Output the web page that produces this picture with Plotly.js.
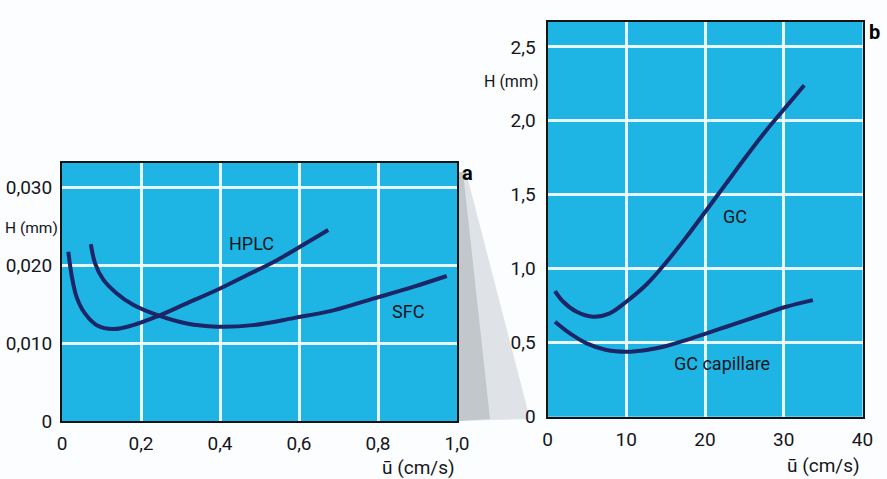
<!DOCTYPE html>
<html>
<head>
<meta charset="utf-8">
<script src="https://cdn.plot.ly/plotly-3.0.1.min.js"></script>
<style>html,body{margin:0;padding:0;background:#fbfdfe;}#chart{width:887px;height:479px;}</style>
</head>
<body>
<div id="chart"></div>
<script>
// ---- data ----
const hplcU = [0.016,0.025,0.037,0.058,0.088,0.13,0.18,0.24,0.316,0.392,0.468,0.543,0.611,0.674];
const hplcH = [0.0217,0.0185,0.0159,0.0138,0.0123,0.0118,0.0123,0.0134,0.0151,0.0168,0.0187,0.0206,0.0226,0.0245];
const sfcU  = [0.073,0.084,0.105,0.138,0.18,0.24,0.316,0.392,0.484,0.586,0.687,0.788,0.889,0.974];
const sfcH  = [0.0227,0.0202,0.0181,0.0164,0.0149,0.0136,0.0125,0.0121,0.0123,0.0132,0.0142,0.0157,0.0172,0.0186];
const gcU   = [0.95,2.0,3.7,5.8,7.9,10.0,12.6,15.1,17.6,20.2,22.7,25.2,27.8,30.3,32.6];
const gcH   = [0.849,0.777,0.709,0.676,0.699,0.777,0.895,1.045,1.212,1.397,1.577,1.757,1.937,2.095,2.241];
const gccU  = [0.95,2.85,4.97,7.5,10.0,12.6,15.1,17.6,20.2,22.7,25.2,27.8,30.3,33.7];
const gccH  = [0.642,0.563,0.496,0.451,0.439,0.451,0.478,0.518,0.563,0.608,0.653,0.699,0.743,0.788];

const xTicksA = [0,0.2,0.4,0.6,0.8,1.0];
const xTextA  = ["0","0,2","0,4","0,6","0,8","1,0"];
const yTicksA = [0,0.01,0.02,0.03];
const yTextA  = ["0","0,010","0,020","0,030"];
const xTicksB = [0,10,20,30,40];
const xTextB  = ["0","10","20","30","40"];
const yTicksB = [0,0.5,1.0,1.5,2.0,2.5];
const yTextB  = ["0","0,5","1,0","1,5","2,0","2,5"];

const seriesNames = ["HPLC","SFC","GC","GC capillare"];
const axisTitleY = "H (mm)";
const axisTitleX = "ū (cm/s)";

// ---- layout helpers ----
const W = 887, H = 479;
const px = x => x / W;
const py = y => 1 - y / H;
const FONT = "Roboto, Liberation Sans, sans-serif";
const lineCol = "#1c2566";
const textCol = "#15151c";

const lineStyle = {color: lineCol, width: 4, shape: "spline", smoothing: 1};
const traces = [
  {x: hplcU, y: hplcH, name: seriesNames[0], mode: "lines", line: lineStyle, xaxis: "x", yaxis: "y"},
  {x: sfcU,  y: sfcH,  name: seriesNames[1], mode: "lines", line: lineStyle, xaxis: "x", yaxis: "y"},
  {x: gcU,   y: gcH,   name: seriesNames[2], mode: "lines", line: lineStyle, xaxis: "x2", yaxis: "y2"},
  {x: gccU,  y: gccH,  name: seriesNames[3], mode: "lines", line: lineStyle, xaxis: "x2", yaxis: "y2"}
];

const axBase = {
  showgrid: true, gridcolor: "rgba(240,250,255,0.95)", gridwidth: 3,
  showline: true, mirror: true, linecolor: "#141414", linewidth: 2,
  zeroline: false, ticks: "", tickmode: "array",
  tickfont: {family: FONT, size: 19, color: textCol}
};

const layout = {
  width: W, height: H,
  margin: {l: 0, r: 0, t: 0, b: 0},
  paper_bgcolor: "#fbfdfe",
  plot_bgcolor: "#1eb5e4",
  showlegend: false,
  xaxis:  Object.assign({}, axBase, {domain: [px(62), px(457)], range: [0, 1.0], anchor: "y", tickvals: xTicksA, ticktext: xTextA, ticklabelstandoff: 4}),
  yaxis:  Object.assign({}, axBase, {domain: [py(421), py(163)], range: [0, 0.0331], anchor: "x", tickvals: yTicksA, ticktext: yTextA, ticklabelstandoff: 4}),
  xaxis2: Object.assign({}, axBase, {domain: [px(547.5), px(862.5)], range: [0, 40], anchor: "y2", tickvals: xTicksB, ticktext: xTextB, ticklabelstandoff: 4}),
  yaxis2: Object.assign({}, axBase, {domain: [py(416.7), py(21.7)], range: [0, 2.67], anchor: "x2", tickvals: yTicksB, ticktext: yTextB, ticklabelstandoff: 6}),
  shapes: [
    {type: "path", xref: "paper", yref: "paper",
     path: `M ${px(459)} ${py(172)} L ${px(466)} ${py(172)} L ${px(530)} ${py(419)} L ${px(459)} ${py(421)} Z`,
     fillcolor: "rgba(160,165,175,0.30)", line: {width: 0}, layer: "below"},
    {type: "path", xref: "paper", yref: "paper",
     path: `M ${px(459)} ${py(172)} L ${px(463)} ${py(172)} L ${px(490)} ${py(419)} L ${px(459)} ${py(421)} Z`,
     fillcolor: "rgba(130,135,145,0.30)", line: {width: 0}, layer: "below"}
  ],
  annotations: [
    {text: seriesNames[0], x: 0.48, y: 0.0228, xref: "x", yref: "y", showarrow: false, font: {family: FONT, size: 18, color: textCol}},
    {text: seriesNames[1], x: 0.877, y: 0.0141, xref: "x", yref: "y", showarrow: false, font: {family: FONT, size: 18, color: textCol}},
    {text: seriesNames[2], x: 23.8, y: 1.35, xref: "x2", yref: "y2", showarrow: false, font: {family: FONT, size: 18, color: textCol}},
    {text: seriesNames[3], x: 22.1, y: 0.36, xref: "x2", yref: "y2", showarrow: false, font: {family: FONT, size: 18, color: textCol}},
    {text: axisTitleY, x: px(3), y: py(228), xref: "paper", yref: "paper", xanchor: "left", yanchor: "middle", showarrow: false, font: {family: FONT, size: 15.5, color: textCol}},
    {text: axisTitleY, x: px(541), y: py(82), xref: "paper", yref: "paper", xanchor: "right", yanchor: "middle", showarrow: false, font: {family: FONT, size: 16, color: textCol}},
    {text: axisTitleX, x: px(457), y: py(467), xref: "paper", yref: "paper", xanchor: "right", yanchor: "middle", showarrow: false, font: {family: FONT, size: 19, color: textCol}},
    {text: axisTitleX, x: px(862), y: py(465), xref: "paper", yref: "paper", xanchor: "right", yanchor: "middle", showarrow: false, font: {family: FONT, size: 19, color: textCol}},
    {text: "<b>a</b>", x: px(468), y: py(173), xref: "paper", yref: "paper", xanchor: "center", yanchor: "middle", showarrow: false, font: {family: FONT, size: 20, color: "#000"}},
    {text: "<b>b</b>", x: px(874), y: py(32), xref: "paper", yref: "paper", xanchor: "center", yanchor: "middle", showarrow: false, font: {family: FONT, size: 20, color: "#000"}}
  ]
};

Plotly.newPlot("chart", traces, layout, {displayModeBar: false, staticPlot: true});
</script>
</body>
</html>
